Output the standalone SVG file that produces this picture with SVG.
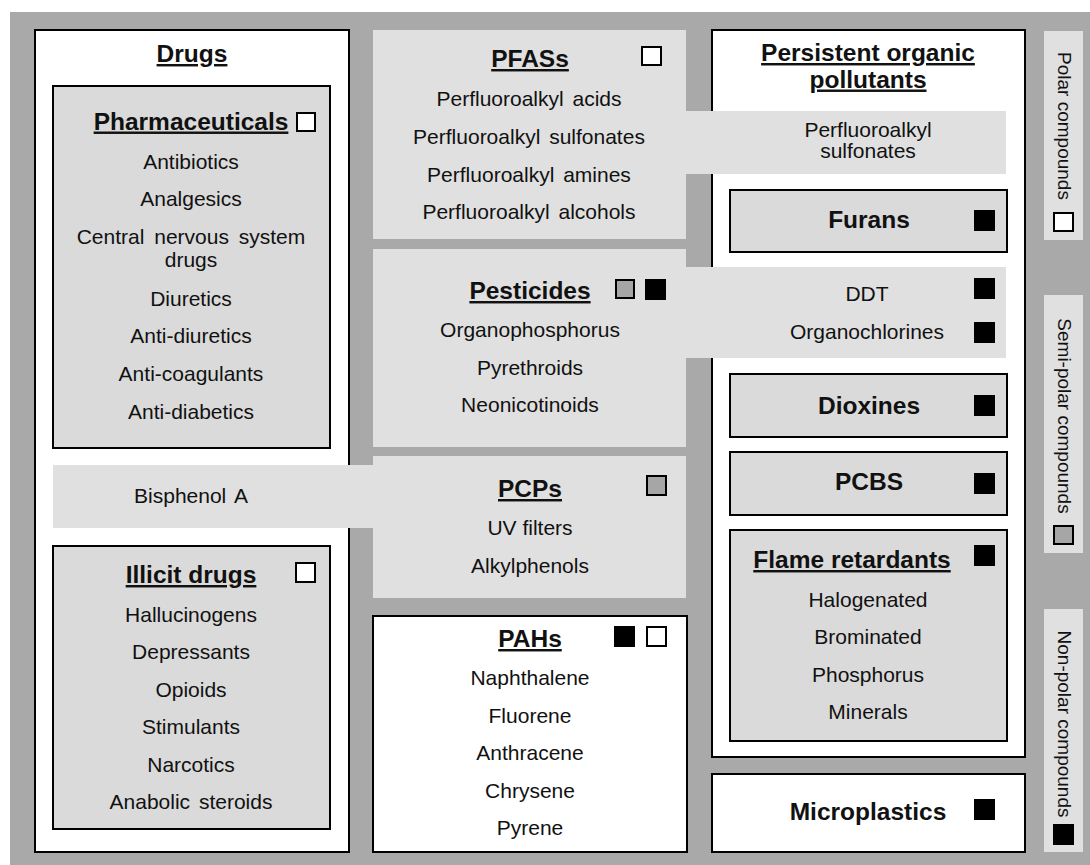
<svg xmlns="http://www.w3.org/2000/svg" width="1090" height="865" viewBox="0 0 1090 865">
<style>
.bg{fill:#a9a9a9}
.wb{fill:#ffffff;stroke:#000;stroke-width:2}
.gb{fill:#dadada;stroke:#000;stroke-width:2}
.band{fill:#e0e0e0}
.t{font-family:"Liberation Sans",Arial,sans-serif;font-size:21px;fill:#111;text-anchor:middle}
.h{font-family:"Liberation Sans",Arial,sans-serif;font-size:24.5px;font-weight:bold;fill:#111;text-anchor:middle}
.u{text-decoration:underline}
.r{font-family:"Liberation Sans",Arial,sans-serif;font-size:19px;fill:#111;text-anchor:middle;dominant-baseline:central}
.cw{fill:#fff;stroke:#000;stroke-width:2}
.cg{fill:#a6a6a6;stroke:#000;stroke-width:2}
.cb{fill:#000;stroke:#000;stroke-width:2}
</style>
<rect x="0" y="0" width="1090" height="865" fill="#fff"/>
<rect class="bg" x="10" y="12" width="1080" height="853"/>

<g id="drugs">
<rect class="wb" x="35" y="30" width="314" height="822"/>
<text class="h u" x="192" y="62">Drugs</text>
</g>

<g id="pharmaceuticals">
<rect class="gb" x="53" y="86" width="277" height="362"/>
<text class="h u" x="191" y="129.5">Pharmaceuticals</text>
<rect class="cw" x="297" y="113" width="18" height="18"/>
<text class="t" x="191" y="169">Antibiotics</text>
<text class="t" x="191" y="206">Analgesics</text>
<text class="t" x="191" y="244" word-spacing="4">Central nervous system</text>
<text class="t" x="191" y="267">drugs</text>
<text class="t" x="191" y="305.5">Diuretics</text>
<text class="t" x="191" y="343">Anti-diuretics</text>
<text class="t" x="191" y="381">Anti-coagulants</text>
<text class="t" x="191" y="418.5">Anti-diabetics</text>
</g>

<g id="illicit-drugs">
<rect class="gb" x="53" y="546" width="277" height="283"/>
<text class="h u" x="191" y="583">Illicit drugs</text>
<rect class="cw" x="296" y="563" width="19" height="19"/>
<text class="t" x="191" y="622">Hallucinogens</text>
<text class="t" x="191" y="659">Depressants</text>
<text class="t" x="191" y="697">Opioids</text>
<text class="t" x="191" y="734">Stimulants</text>
<text class="t" x="191" y="772">Narcotics</text>
<text class="t" x="191" y="809" word-spacing="3">Anabolic steroids</text>
</g>

<g id="pfass">
<rect class="band" x="373" y="30" width="313" height="209"/>
<rect class="band" x="686" y="111" width="320" height="63"/>
<text class="h u" x="530" y="67">PFASs</text>
<rect class="cw" x="642" y="47" width="19" height="18"/>
<text class="t" x="529" y="106" word-spacing="3">Perfluoroalkyl acids</text>
<text class="t" x="529" y="144" word-spacing="3">Perfluoroalkyl sulfonates</text>
<text class="t" x="529" y="182" word-spacing="3">Perfluoroalkyl amines</text>
<text class="t" x="529" y="219" word-spacing="3">Perfluoroalkyl alcohols</text>
</g>

<g id="pesticides">
<rect class="band" x="373" y="249" width="313" height="198"/>
<rect class="band" x="686" y="267" width="320" height="91"/>
<text class="h u" x="530" y="299">Pesticides</text>
<rect class="cg" x="616" y="280" width="18" height="18"/>
<rect class="cb" x="646" y="280" width="19" height="19"/>
<text class="t" x="530" y="337">Organophosphorus</text>
<text class="t" x="530" y="375">Pyrethroids</text>
<text class="t" x="530" y="412">Neonicotinoids</text>
</g>

<g id="pcps">
<rect class="band" x="373" y="456" width="313" height="142"/>
<rect class="band" x="53" y="465" width="320" height="63"/>
<text class="h u" x="530" y="497">PCPs</text>
<rect class="cg" x="647" y="476" width="19" height="19"/>
<text class="t" x="530" y="535">UV filters</text>
<text class="t" x="530" y="573">Alkylphenols</text>
<text class="t" x="191" y="503" word-spacing="3">Bisphenol A</text>
</g>

<g id="pahs">
<rect class="wb" x="373" y="616" width="314" height="236"/>
<text class="h u" x="530" y="647">PAHs</text>
<rect class="cb" x="615" y="627" width="19" height="19"/>
<rect class="cw" x="647" y="627" width="19" height="19"/>
<text class="t" x="530" y="685">Naphthalene</text>
<text class="t" x="530" y="723">Fluorene</text>
<text class="t" x="530" y="760">Anthracene</text>
<text class="t" x="530" y="798">Chrysene</text>
<text class="t" x="530" y="835">Pyrene</text>
</g>

<g id="pops">
<path class="wb" d="M712 111 V30 H1025 V757 H712 V358 M712 267 V174"/>
<rect class="band" x="686" y="111" width="320" height="63"/>
<rect class="band" x="686" y="267" width="320" height="91"/>
<text class="h u" x="868" y="61">Persistent organic</text>
<text class="h u" x="868" y="87.5">pollutants</text>
<text class="t" x="868" y="137">Perfluoroalkyl</text>
<text class="t" x="868" y="158">sulfonates</text>
<text class="t" x="867" y="301">DDT</text>
<rect class="cb" x="975" y="279" width="19" height="19"/>
<text class="t" x="867" y="339">Organochlorines</text>
<rect class="cb" x="975" y="323" width="19" height="19"/>
</g>

<g id="furans">
<rect class="gb" x="730" y="190" width="277" height="62"/>
<text class="h" x="869" y="228">Furans</text>
<rect class="cb" x="975" y="211" width="19" height="19"/>
</g>

<g id="dioxines">
<rect class="gb" x="730" y="374" width="277" height="63"/>
<text class="h" x="869" y="414">Dioxines</text>
<rect class="cb" x="975" y="396" width="19" height="19"/>
</g>

<g id="pcbs">
<rect class="gb" x="730" y="452" width="277" height="63"/>
<text class="h" x="869" y="490">PCBS</text>
<rect class="cb" x="975" y="474" width="19" height="19"/>
</g>

<g id="flame-retardants">
<rect class="gb" x="730" y="530" width="277" height="211"/>
<text class="h u" x="852" y="568">Flame retardants</text>
<rect class="cb" x="975" y="546" width="19" height="19"/>
<text class="t" x="868" y="607">Halogenated</text>
<text class="t" x="868" y="644">Brominated</text>
<text class="t" x="868" y="682">Phosphorus</text>
<text class="t" x="868" y="719">Minerals</text>
</g>

<g id="microplastics">
<rect class="wb" x="712" y="774" width="313" height="78"/>
<text class="h" x="868" y="820">Microplastics</text>
<rect class="cb" x="975" y="800" width="19" height="19"/>
</g>

<g id="polar">
<rect class="band" x="1044" y="31" width="39" height="209"/>
<text class="r" transform="translate(1064 126) rotate(90)">Polar compounds</text>
<rect class="cw" x="1054" y="213" width="19" height="18"/>
</g>

<g id="semi-polar">
<rect class="band" x="1044" y="295" width="39" height="258"/>
<text class="r" transform="translate(1064 416) rotate(90)">Semi-polar compounds</text>
<rect class="cg" x="1054" y="526" width="19" height="18"/>
</g>

<g id="non-polar">
<rect class="band" x="1044" y="609" width="39" height="243"/>
<text class="r" transform="translate(1064 724) rotate(90)">Non-polar compounds</text>
<rect class="cb" x="1054" y="825" width="19" height="19"/>
</g>

<g id="connectors"></g>
</svg>
